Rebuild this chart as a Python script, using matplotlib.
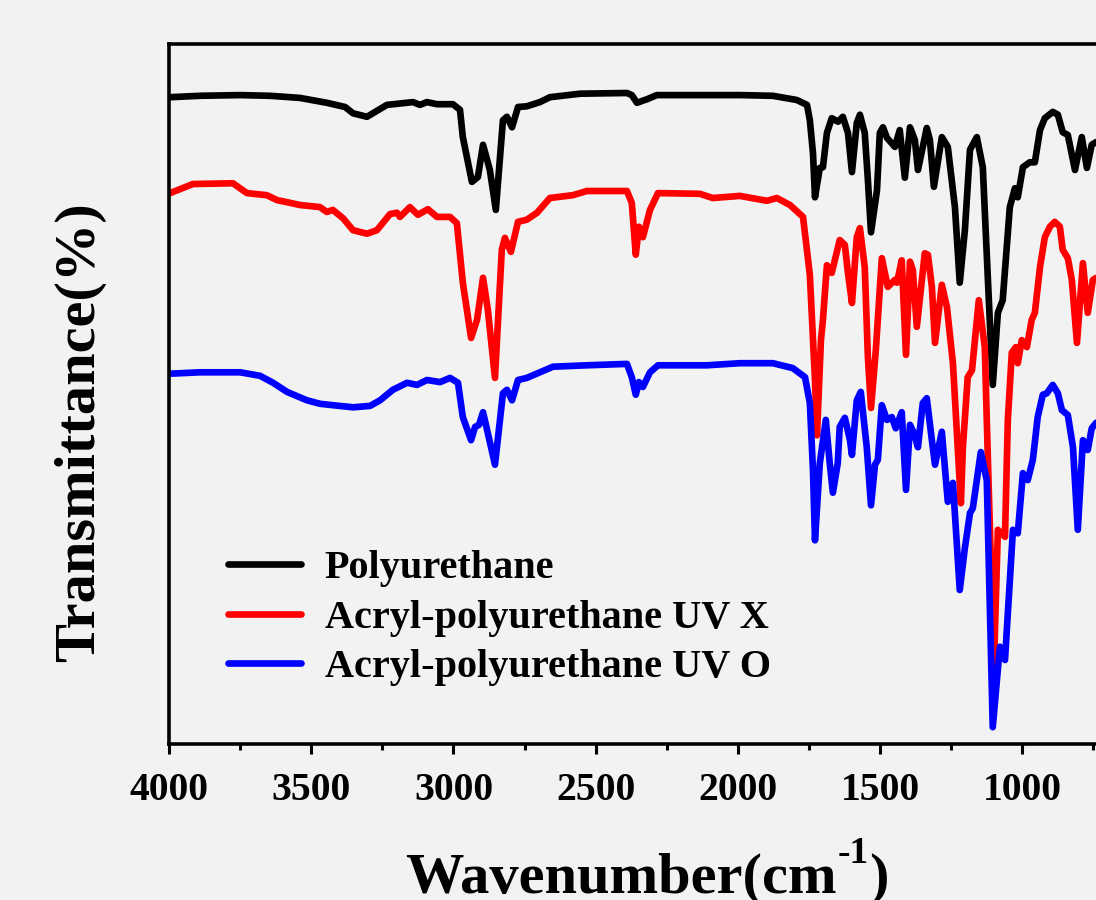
import matplotlib
matplotlib.use('Agg')
import matplotlib.pyplot as plt
from matplotlib.ticker import MultipleLocator

plt.rcParams['font.family'] = ['Liberation Serif', 'DejaVu Serif']
plt.rcParams['font.weight'] = 'bold'

labels = ['Polyurethane', 'Acryl-polyurethane UV X', 'Acryl-polyurethane UV O']
colors = ['#000000', '#ff0000', '#0000ff']

# Polyurethane
wn_pu = [3996, 3891, 3750, 3645, 3540, 3445, 3381, 3353, 3304, 3234, 3142, 3118, 3093, 3058,
         3002, 2977, 2967, 2935, 2914, 2896, 2872, 2851, 2826, 2812, 2794, 2773, 2742, 2696,
         2661, 2555, 2390, 2373, 2355, 2320, 2285, 1993, 1877, 1793, 1757, 1747, 1736, 1729,
         1712, 1701, 1687, 1670, 1648, 1631, 1613, 1599, 1582, 1571, 1554, 1543, 1532, 1511,
         1501, 1490, 1476, 1448, 1431, 1413, 1395, 1378, 1367, 1336, 1325, 1311, 1283, 1262,
         1237, 1220, 1202, 1184, 1160, 1139, 1121, 1104, 1086, 1069, 1044, 1026, 1016, 998,
         974, 956, 938, 921, 893, 875, 858, 840, 815, 791, 773, 756, 740]
t_pu = [92.4, 92.6, 92.7, 92.6, 92.3, 91.6, 91.0, 90.1, 89.6, 91.3, 91.7, 91.3, 91.7, 91.4,
        91.4, 90.6, 86.7, 80.3, 81.0, 85.6, 82.0, 76.3, 89.1, 89.6, 88.1, 91.0, 91.1, 91.7,
        92.4, 92.9, 93.0, 92.7, 91.6, 92.1, 92.7, 92.7, 92.6, 92.0, 91.3, 89.1, 84.4, 78.1,
        82.3, 82.4, 87.3, 89.4, 88.9, 89.6, 87.3, 81.7, 88.7, 89.9, 87.3, 80.6, 73.1, 79.1,
        87.3, 88.1, 86.6, 85.3, 87.7, 80.9, 88.1, 86.3, 82.0, 88.0, 86.3, 79.6, 86.7, 85.3,
        76.7, 65.9, 73.4, 84.9, 86.7, 82.4, 66.3, 51.3, 61.6, 63.4, 76.7, 79.4, 78.1, 82.4,
        83.1, 83.1, 87.7, 89.4, 90.3, 89.9, 87.4, 87.0, 82.0, 86.7, 82.3, 85.6, 86.0]

# Acryl-polyurethane UV X
wn_x = [3996, 3916, 3775, 3726, 3656, 3620, 3585, 3540, 3469, 3445, 3424, 3388, 3353, 3304,
        3269, 3223, 3199, 3188, 3153, 3125, 3090, 3058, 3012, 2988, 2967, 2938, 2917, 2896,
        2879, 2854, 2830, 2819, 2798, 2773, 2742, 2706, 2661, 2580, 2531, 2390, 2373, 2359,
        2348, 2334, 2309, 2281, 2134, 2088, 1993, 1898, 1863, 1817, 1771, 1747, 1729, 1722,
        1708, 1701, 1687, 1670, 1642, 1624, 1613, 1599, 1582, 1571, 1554, 1543, 1532, 1515,
        1494, 1473, 1448, 1441, 1424, 1409, 1395, 1385, 1371, 1343, 1332, 1318, 1307, 1283,
        1265, 1244, 1216, 1209, 1192, 1177, 1153, 1132, 1125, 1100, 1086, 1061, 1051, 1037,
        1023, 1016, 1002, 984, 967, 956, 938, 921, 903, 886, 868, 858, 840, 826, 808, 787,
        770, 752, 740]
t_x = [78.7, 80.0, 80.1, 78.7, 78.4, 77.7, 77.4, 77.0, 76.7, 76.0, 76.3, 75.1, 73.4, 72.9,
       73.4, 75.7, 75.9, 75.3, 76.7, 75.6, 76.4, 75.3, 75.3, 74.4, 65.9, 58.0, 60.6, 66.6,
       62.0, 52.3, 70.6, 72.3, 70.3, 74.6, 74.9, 75.9, 78.0, 78.4, 79.0, 79.0, 77.3, 69.9,
       73.9, 72.4, 76.3, 78.7, 78.6, 78.0, 78.3, 77.6, 78.0, 77.0, 75.3, 67.0, 52.0, 44.1,
       57.7, 60.6, 68.4, 67.3, 72.0, 71.3, 67.3, 63.0, 72.4, 73.7, 68.1, 55.3, 48.0, 56.3,
       69.4, 65.3, 66.3, 65.9, 69.1, 55.6, 68.9, 67.7, 59.6, 70.1, 69.9, 65.3, 57.3, 65.6,
       62.4, 54.4, 34.4, 42.4, 52.4, 53.4, 63.4, 56.7, 46.3, 10.9, 30.6, 29.6, 46.3, 55.9,
       56.7, 54.4, 57.7, 56.7, 60.6, 61.6, 68.1, 72.4, 73.9, 74.6, 73.9, 70.6, 69.4, 66.3,
       57.3, 68.7, 61.6, 66.3, 66.6]

# Acryl-polyurethane UV O
wn_o = [3996, 3891, 3750, 3680, 3634, 3585, 3515, 3469, 3424, 3353, 3293, 3258, 3213, 3163,
        3128, 3093, 3047, 3012, 2984, 2967, 2938, 2924, 2910, 2896, 2879, 2854, 2826, 2812,
        2794, 2773, 2742, 2696, 2650, 2531, 2390, 2373, 2359, 2348, 2334, 2309, 2281, 2109,
        1993, 1877, 1807, 1764, 1747, 1736, 1729, 1712, 1691, 1677, 1666, 1649, 1642, 1624,
        1606, 1599, 1582, 1568, 1547, 1532, 1518, 1508, 1494, 1476, 1459, 1445, 1424, 1409,
        1395, 1381, 1367, 1350, 1336, 1318, 1307, 1283, 1262, 1244, 1220, 1202, 1184, 1174,
        1146, 1125, 1104, 1079, 1061, 1033, 1016, 998, 981, 963, 946, 928, 914, 893, 875,
        861, 840, 822, 805, 787, 770, 756, 740]
t_o = [52.9, 53.1, 53.1, 52.6, 51.6, 50.3, 49.1, 48.6, 48.4, 48.1, 48.3, 49.1, 50.6, 51.6,
       51.3, 52.0, 51.7, 52.3, 51.6, 46.7, 43.4, 45.3, 45.6, 47.4, 44.4, 39.9, 50.1, 50.6,
       49.1, 52.0, 52.3, 53.1, 53.9, 54.1, 54.3, 52.4, 49.9, 51.7, 51.0, 53.1, 54.1, 54.1,
       54.4, 54.4, 53.7, 52.4, 48.7, 39.1, 29.1, 40.1, 46.3, 40.1, 35.9, 40.1, 45.3, 46.6,
       43.4, 41.3, 49.1, 50.3, 42.4, 34.1, 39.9, 40.6, 48.4, 46.3, 46.7, 45.1, 47.4, 36.3,
       45.6, 44.4, 42.4, 48.7, 49.4, 43.4, 39.9, 44.6, 34.6, 37.3, 22.0, 28.0, 33.0, 33.7,
       41.7, 37.7, 2.4, 13.9, 12.0, 30.6, 30.1, 38.7, 37.7, 40.6, 46.7, 49.9, 50.1, 51.3, 50.1,
       47.7, 47.0, 42.4, 30.6, 43.4, 42.0, 45.1, 45.9]

xticks = [4000, 3500, 3000, 2500, 2000, 1500, 1000]

series = [(wn_pu, t_pu), (wn_x, t_x), (wn_o, t_o)]

bg = '#f2f2f2'
W, H = 1096, 900
fig = plt.figure(figsize=(W / 100, H / 100), dpi=100, facecolor=bg)
# axes runs past the right edge of the figure, as in the original
ax = fig.add_axes([169 / W, 156 / H, 1024 / W, 700 / H], facecolor=bg)

for (x, y), c, lab in zip(series, colors, labels):
    ax.plot(x, y, color=c, lw=4.8, label=lab, solid_joinstyle='round', solid_capstyle='round')

ax.set_xlim(4000, 400)
ax.set_ylim(0, 100)
ax.set_xticks(xticks)
ax.set_xticklabels([str(v) for v in xticks])
ax.xaxis.set_minor_locator(MultipleLocator(250))
ax.set_yticks([])
for s in ax.spines.values():
    s.set_linewidth(2.6)
ax.tick_params(axis='x', which='major', direction='out', length=7.5, width=2.2,
               labelsize=28.5, pad=12.5)
ax.tick_params(axis='x', which='minor', direction='out', length=4, width=2.2)
for lbl in ax.get_xticklabels():
    lbl.set_fontweight('bold')

# x label with a plain hyphen in the superscript, built from three pieces
base_y = 893
r = fig.canvas.get_renderer()
t1 = fig.text(0, (H - base_y) / H, 'Wavenumber(cm', fontsize=42, fontweight='bold',
              ha='left', va='baseline')
t2 = fig.text(0, (H - base_y + 30) / H, '-1', fontsize=27, fontweight='bold',
              ha='left', va='baseline')
t3 = fig.text(0, (H - base_y) / H, ')', fontsize=42, fontweight='bold',
              ha='left', va='baseline')
w1 = t1.get_window_extent(r).width
w2 = t2.get_window_extent(r).width
w3 = t3.get_window_extent(r).width
x0 = 646 - (w1 + w2 + w3) / 2
t1.set_x(x0 / W)
t2.set_x((x0 + w1 + 1) / W)
t3.set_x((x0 + w1 + w2 + 1) / W)

fig.text(80 / W, (H - 432) / H, 'Transmittance(%)', fontsize=42,
         fontweight='bold', ha='center', va='center', rotation=90)

leg = ax.legend(loc='center left', bbox_to_anchor=(228 / W, (H - 618) / H),
                bbox_transform=fig.transFigure, frameon=False, fontsize=29,
                handlelength=1.8, handletextpad=0.6, labelspacing=0.31,
                borderpad=0, borderaxespad=0)
for t in leg.get_texts():
    t.set_fontweight('bold')

fig.savefig('out.png', dpi=100, facecolor=bg)
